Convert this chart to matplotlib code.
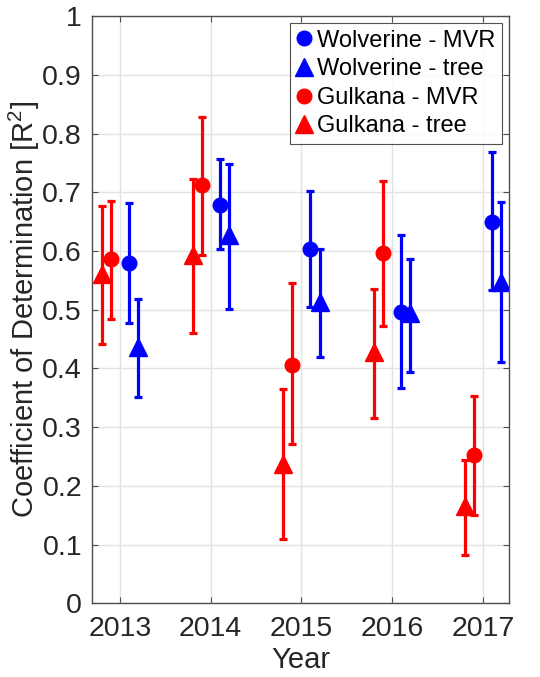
import matplotlib
matplotlib.use("Agg")
import matplotlib.pyplot as plt
from matplotlib.lines import Line2D
import numpy as np

plt.rcParams['font.family'] = ['Liberation Sans', 'DejaVu Sans']
plt.rcParams['mathtext.fontset'] = 'custom'
plt.rcParams['mathtext.rm'] = 'Liberation Sans'
plt.rcParams['mathtext.it'] = 'Liberation Sans:italic'

# data
years = [2013, 2014, 2015, 2016, 2017]

wolv_mvr = [0.579, 0.678, 0.604, 0.496, 0.650]
wolv_mvr_lo = [0.478, 0.603, 0.504, 0.366, 0.533]
wolv_mvr_hi = [0.681, 0.756, 0.702, 0.627, 0.769]

wolv_tree = [0.436, 0.627, 0.513, 0.494, 0.547]
wolv_tree_lo = [0.351, 0.502, 0.419, 0.394, 0.411]
wolv_tree_hi = [0.518, 0.748, 0.604, 0.587, 0.683]

gulk_mvr = [0.586, 0.712, 0.406, 0.596, 0.252]
gulk_mvr_lo = [0.485, 0.593, 0.271, 0.472, 0.150]
gulk_mvr_hi = [0.686, 0.828, 0.545, 0.720, 0.353]

gulk_tree = [0.561, 0.593, 0.238, 0.428, 0.165]
gulk_tree_lo = [0.442, 0.460, 0.109, 0.315, 0.082]
gulk_tree_hi = [0.676, 0.722, 0.365, 0.536, 0.244]

labels = ['Wolverine - MVR', 'Wolverine - tree', 'Gulkana - MVR', 'Gulkana - tree']

series = [
    (wolv_mvr, wolv_mvr_lo, wolv_mvr_hi, 0.1, 'o', 'blue', 10.5),
    (wolv_tree, wolv_tree_lo, wolv_tree_hi, 0.2, '^', 'blue', 12.5),
    (gulk_mvr, gulk_mvr_lo, gulk_mvr_hi, -0.1, 'o', 'red', 10.5),
    (gulk_tree, gulk_tree_lo, gulk_tree_hi, -0.2, '^', 'red', 12.5),
]

fig = plt.figure(figsize=(5.4, 6.77), dpi=100)
ax = fig.add_axes([0.170, 0.109, 0.773, 0.867])

handles = []
for (vals, lo, hi, off, mk, col, ms), lab in zip(series, labels):
    vals = np.array(vals)
    yerr = [vals - np.array(lo), np.array(hi) - vals]
    x = np.array(years) + off
    ax.errorbar(x, vals, yerr=yerr, fmt=mk, color=col, ecolor=col,
                markersize=ms, elinewidth=2.3, capsize=3.2, capthick=2.3)
    handles.append(Line2D([], [], marker=mk, color=col, linestyle='none',
                          markersize=ms))

ax.set_xlim(2012.69, 2017.29)
ax.set_ylim(0, 1)
ax.set_xticks(years)
ax.set_yticks(np.arange(0, 1.01, 0.1))
ax.set_yticklabels(['%g' % round(v, 1) for v in np.arange(0, 1.01, 0.1)])

ax.grid(True, color='#e3e3e3', linewidth=1)
ax.set_axisbelow(True)
for s in ax.spines.values():
    s.set_color('#4d4d4d')
    s.set_linewidth(1)
ax.tick_params(direction='in', top=True, right=True, length=4,
               labelsize=20.5, colors='#4d4d4d', labelcolor='#262626')
ax.tick_params(axis='x', pad=9)
ax.tick_params(axis='y', pad=7)

ax.set_xlabel('Year', fontsize=21, color='#262626', labelpad=3)
ax.set_ylabel('Coefficient of Determination [R$^2$]', fontsize=21,
              color='#262626', labelpad=0)

leg = ax.legend(handles, labels, loc='upper right', bbox_to_anchor=(0.983, 0.988),
                borderaxespad=0, fontsize=17, frameon=True, fancybox=False,
                handlelength=0.7, handletextpad=0.2, borderpad=0.27,
                labelspacing=0.28, edgecolor='#262626')
leg.get_frame().set_linewidth(0.8)

fig.savefig('out.png', dpi=100)
